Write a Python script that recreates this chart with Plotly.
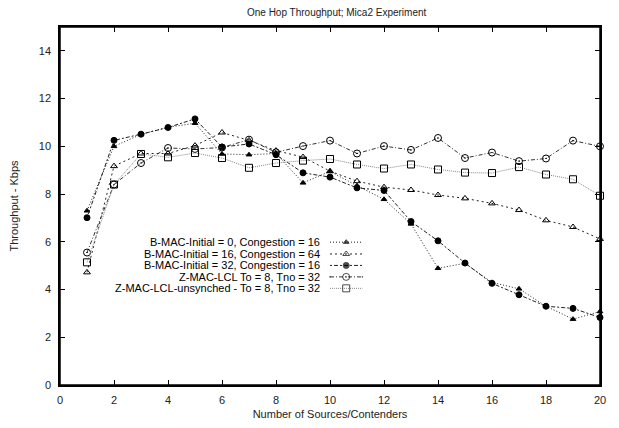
import plotly.graph_objects as go

contenders = list(range(1, 21))
bmac_0_16 = [7.3, 10.0, 10.5, 10.8, 10.97, 9.68, 9.65, 9.7, 8.47, 8.95, 8.35, 7.78, 6.75, 4.89, 5.1, 4.3, 4.03, 3.3, 2.76, 3.08]
bmac_16_64 = [4.72, 9.17, 9.7, 9.7, 10.03, 10.58, 10.25, 9.82, 9.55, 8.96, 8.54, 8.29, 8.17, 7.96, 7.82, 7.61, 7.33, 6.9, 6.62, 6.12]
bmac_32_16 = [7.01, 10.25, 10.51, 10.79, 11.15, 9.97, 10.1, 9.65, 8.89, 8.71, 8.26, 8.15, 6.85, 6.04, 5.11, 4.26, 3.78, 3.3, 3.21, 2.83]
zmac_lcl = [5.55, 8.4, 9.3, 9.93, 9.89, 9.95, 10.28, 9.75, 10.01, 10.24, 9.7, 10.01, 9.85, 10.35, 9.51, 9.74, 9.38, 9.49, 10.24, 10.0]
zmac_unsync = [5.14, 8.4, 9.68, 9.54, 9.72, 9.51, 9.1, 9.3, 9.4, 9.47, 9.24, 9.07, 9.24, 9.03, 8.9, 8.88, 9.13, 8.82, 8.62, 7.93]
x_ticks = [0, 2, 4, 6, 8, 10, 12, 14, 16, 18, 20]
y_ticks = [0, 2, 4, 6, 8, 10, 12, 14]

names = [
    "B-MAC-Initial = 0, Congestion = 16",
    "B-MAC-Initial = 16, Congestion = 64",
    "B-MAC-Initial = 32, Congestion = 16",
    "Z-MAC-LCL To = 8, Tno = 32",
    "Z-MAC-LCL-unsynched - To = 8, Tno = 32",
]
series = [bmac_0_16, bmac_16_64, bmac_32_16, zmac_lcl, zmac_unsync]
symbols = ["triangle-up", "triangle-up-open", "circle", "circle-open-dot", "square-open"]
msizes = [5, 6, 6, 7, 7]
dashes = ["1px,2px", "2px,3px", "2px,2px,4px,2px", "4px,2px,1px,2px", "1px,1px"]
lcolors = ["#222", "#222", "#222", "#333", "#888"]

fig = go.Figure()
for nm, ys, sym, ms, ds, lc in zip(names, series, symbols, msizes, dashes, lcolors):
    fig.add_trace(go.Scatter(
        x=contenders, y=ys, name=nm, mode="lines+markers", cliponaxis=False,
        line=dict(color=lc, width=1, dash=ds),
        marker=dict(symbol=sym, size=ms, color="black", line=dict(color="black", width=1)),
        showlegend=False,
    ))

# gnuplot-style key: right-aligned text, sample to the right (separate hidden 0..1 axes)
row_y = [0.399, 0.366, 0.334, 0.302, 0.270]
for i, (nm, sym, ms, ds, lc) in enumerate(zip(names, symbols, msizes, dashes, lcolors)):
    fig.add_trace(go.Scatter(
        x=[0.50, 0.53, 0.56], y=[row_y[i]] * 3, mode="lines+markers",
        line=dict(color=lc, width=1, dash=ds),
        marker=dict(symbol=sym, size=[0, ms, 0], color="black", line=dict(color="black", width=1)),
        xaxis="x2", yaxis="y2", showlegend=False, hoverinfo="skip",
    ))
    fig.add_annotation(x=0.485, y=row_y[i], xref="paper", yref="paper", text=nm,
                       showarrow=False, xanchor="right", yanchor="middle",
                       font=dict(size=11, color="black", family="Liberation Sans"))

# plot frame
fig.add_shape(type="rect", xref="paper", yref="paper", x0=0, y0=0, x1=1, y1=1,
              line=dict(color="black", width=1.5), layer="above")

tick_style = dict(ticks="inside", ticklen=5, tickcolor="black", tickwidth=1.2, showgrid=False,
                  zeroline=False, automargin=False,
                  tickfont=dict(size=11, color="#222", family="Liberation Sans"))

fig.update_layout(
    template="none",
    width=603, height=412,
    margin=dict(l=52, r=11, t=19, b=35, autoexpand=False),
    paper_bgcolor="white", plot_bgcolor="rgba(0,0,0,0)",
    font=dict(family="Liberation Sans", color="#222"),
    title=dict(text="One Hop Throughput; Mica2 Experiment", x=0.545, xanchor="center",
               y=0.99, yanchor="middle", font=dict(size=10, color="#222")),
    xaxis=dict(range=[0, 20], tickmode="array", tickvals=x_ticks, domain=[0, 1],
               showline=True, linecolor="black", linewidth=1.5, mirror="ticks", ticklabelstandoff=4,
               title=dict(text="Number of Sources/Contenders", font=dict(size=11), standoff=8),
               **tick_style),
    yaxis=dict(range=[0, 15], tickmode="array", tickvals=y_ticks, domain=[0, 1],
               showline=True, linecolor="black", linewidth=1.5, mirror="ticks", ticklabelstandoff=5,
               title=dict(text="Throughput - Kbps", font=dict(size=11), standoff=18),
               **tick_style),
    xaxis2=dict(range=[0, 1], domain=[0, 1], anchor="y2", visible=False, fixedrange=True),
    yaxis2=dict(range=[0, 1], domain=[0, 1], anchor="x2", visible=False, fixedrange=True),
    showlegend=False,
)

fig.write_html("out.html")
